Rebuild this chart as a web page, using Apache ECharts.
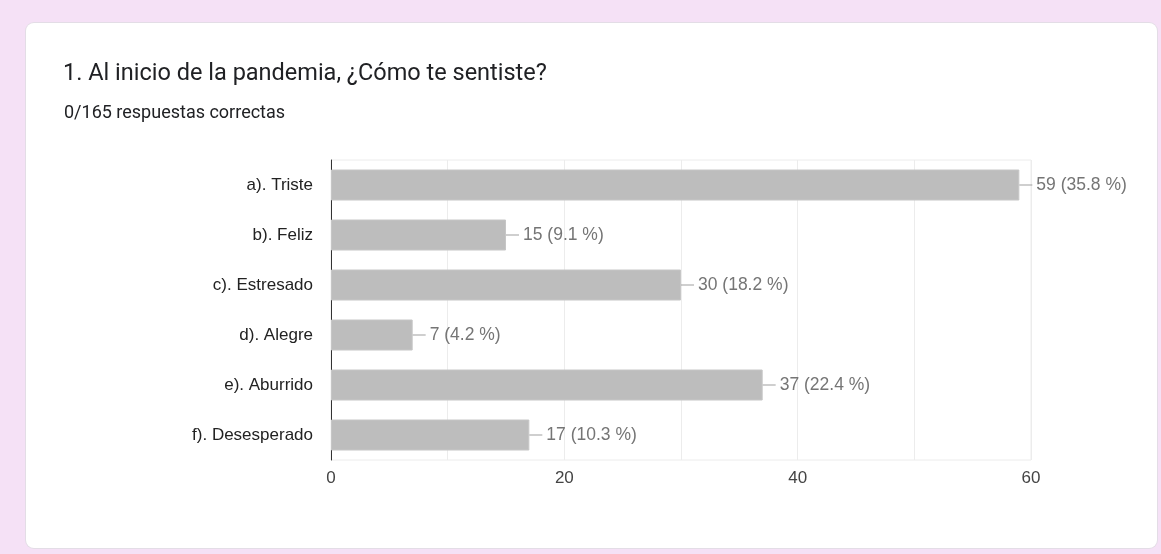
<!DOCTYPE html>
<html>
<head>
<meta charset="utf-8">
<script src="https://cdn.jsdelivr.net/npm/echarts@6/dist/echarts.min.js"></script>
<style>
  html, body { margin: 0; padding: 0; width: 1161px; height: 554px; overflow: hidden; background: #f5e1f6; }
  #card { position: absolute; left: 26px; top: 23px; width: 1131px; height: 525px; background: #fff; border-radius: 8px; box-shadow: 0 0 0 1px #e3dde6; }
  #chart { position: absolute; left: 0; top: 0; width: 1161px; height: 554px; }
</style>
</head>
<body>
<div id="card"></div>
<div id="chart"></div>
<script>
const categories = ['a). Triste', 'b). Feliz', 'c). Estresado', 'd). Alegre', 'e). Aburrido', 'f). Desesperado'];
const counts = [59, 15, 30, 7, 37, 17];
const percents = ['35.8', '9.1', '18.2', '4.2', '22.4', '10.3'];
const xTicks = [0, 20, 40, 60];

const chart = echarts.init(document.getElementById('chart'), null, { renderer: 'canvas' });
chart.setOption({
  backgroundColor: 'transparent',
  animation: false,
  title: [
    { text: '1. Al inicio de la pandemia, ¿Cómo te sentiste?', left: 58, top: 57,
      textStyle: { fontFamily: 'Roboto', fontSize: 23.5, fontWeight: 'normal', color: '#202124' } },
    { text: '0/165 respuestas correctas', left: 59, top: 99,
      textStyle: { fontFamily: 'Roboto', fontSize: 18, fontWeight: 'normal', color: '#202124' } }
  ],
  grid: { left: 331, right: 130, top: 160, bottom: 94, show: true, borderColor: '#ececec', borderWidth: 1 },
  xAxis: {
    type: 'value', min: 0, max: 60, interval: 10,
    axisLine: { show: false }, axisTick: { show: false },
    splitLine: { lineStyle: { color: '#ececec' } },
    axisLabel: {
      margin: 10, fontFamily: 'Liberation Sans', fontSize: 17, color: '#444',
      formatter: v => xTicks.includes(v) ? String(v) : ''
    }
  },
  yAxis: {
    type: 'category', data: categories, inverse: true,
    axisLine: { show: true, lineStyle: { color: '#333', width: 1 } },
    axisTick: { show: false },
    axisLabel: { margin: 18, fontFamily: 'Liberation Sans', fontSize: 17, color: '#222' }
  },
  series: [{
    type: 'bar', data: counts, barWidth: 31,
    itemStyle: { color: '#bdbdbd', borderColor: '#c6c6c6', borderWidth: 1 },
    label: {
      show: true, position: 'right', distance: 0,
      formatter: p => '{ln|}{t|' + counts[p.dataIndex] + ' (' + percents[p.dataIndex] + ' %)}',
      rich: {
        ln: { width: 13, height: 1, backgroundColor: '#9e9e9e' },
        t: { fontFamily: 'Liberation Sans', fontSize: 17.5, color: '#757575', padding: [0, 0, 0, 4] }
      }
    }
  }]
});
</script>
</body>
</html>
